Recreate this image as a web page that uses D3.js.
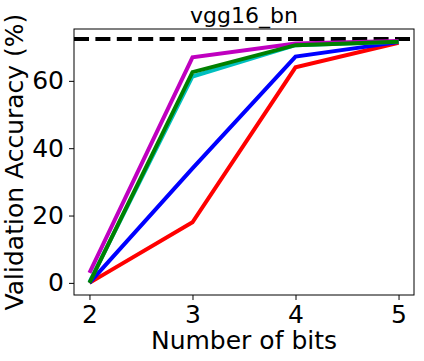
<!DOCTYPE html>
<html>
<head>
<meta charset="utf-8">
<script src="https://cdn.jsdelivr.net/npm/d3@7"></script>
<style>
  body { margin: 0; background: #fff; }
  svg text { font-family: "DejaVu Sans", sans-serif; fill: #000; }
</style>
</head>
<body>
<div id="chart"></div>
<script>
const bits = [2, 3, 4, 5]
const yTicks = [0, 20, 40, 60]
const baseline = 72.4

const red = [0, 18, 64, 71.3]
const blue = [0, 34, 67.2, 71.5]
const cyan = [0.2, 61.3, 70.6, 71.6]
const magenta = [3, 67, 71.1, 71.8]
const green = [0, 62.6, 70.6, 71.6]

const series = [
    { name: "red", color: "#ff0000", values: red },
    { name: "blue", color: "#0000ff", values: blue },
    { name: "cyan", color: "#00bfbf", values: cyan },
    { name: "magenta", color: "#bf00bf", values: magenta },
    { name: "green", color: "#008000", values: green }
]

const width = 424
const height = 361
const margin = { top: 29, right: 10, bottom: 66, left: 74 }
const w = width - margin.left - margin.right
const h = height - margin.top - margin.bottom

const svg = d3.select("#chart").append("svg")
    .attr("width", width)
    .attr("height", height)

const g = svg.append("g")
    .attr("transform", `translate(${margin.left},${margin.top})`)

const x = d3.scaleLinear().domain([1.85, 5.15]).range([0, w])
const y = d3.scaleLinear().domain([-3.6, 75.4]).range([h, 0])

// dashed reference line across the whole axes
g.append("line")
    .attr("x1", 0)
    .attr("x2", w)
    .attr("y1", y(baseline))
    .attr("y2", y(baseline))
    .attr("stroke", "#000")
    .attr("stroke-width", 4)
    .attr("stroke-dasharray", "15,6.4")

const line = d3.line()
    .x((d, i) => x(bits[i]))
    .y(d => y(d))

g.selectAll(".series")
    .data(series)
    .enter()
    .append("path")
    .attr("class", "series")
    .attr("d", d => line(d.values))
    .attr("fill", "none")
    .attr("stroke", d => d.color)
    .attr("stroke-width", 4)
    .attr("stroke-linejoin", "miter")

const xAxis = g.append("g")
    .attr("transform", `translate(0,${h})`)
    .call(d3.axisBottom(x).tickValues(bits).tickFormat(d3.format("d")).tickSize(5).tickPadding(5))

const yAxis = g.append("g")
    .call(d3.axisLeft(y).tickValues(yTicks).tickFormat(d3.format("d")).tickSize(5).tickPadding(5))

for (const a of [xAxis, yAxis]) {
    a.select(".domain").remove()
    a.selectAll("text")
        .attr("font-size", 25)
        .attr("font-family", "DejaVu Sans")
    a.selectAll("line").attr("stroke", "#000").attr("stroke-width", 1)
}

g.append("rect")
    .attr("width", w)
    .attr("height", h)
    .attr("fill", "none")
    .attr("stroke", "#000")
    .attr("stroke-width", 1)

g.append("text")
    .attr("x", w / 2)
    .attr("y", -6)
    .attr("text-anchor", "middle")
    .attr("font-size", 22)
    .text("vgg16_bn")

g.append("text")
    .attr("x", w / 2)
    .attr("y", h + 54)
    .attr("text-anchor", "middle")
    .attr("font-size", 25)
    .text("Number of bits")

g.append("text")
    .attr("transform", `translate(${-51},${h / 2}) rotate(-90)`)
    .attr("text-anchor", "middle")
    .attr("font-size", 25)
    .text("Validation Accuracy (%)")
</script>
</body>
</html>
